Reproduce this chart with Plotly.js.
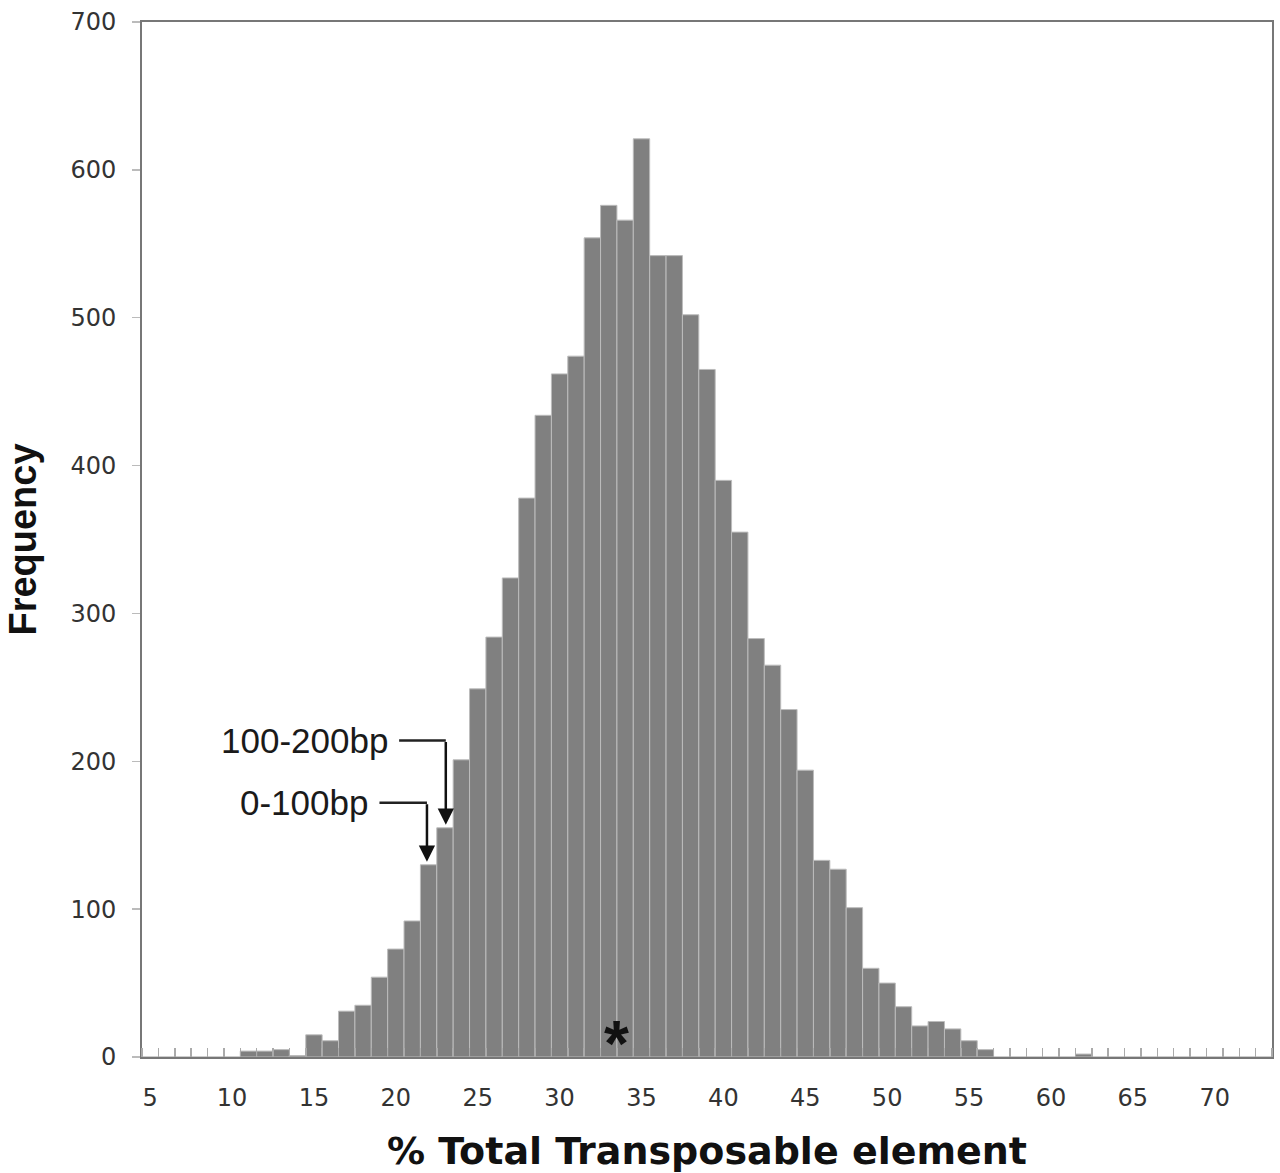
<!DOCTYPE html>
<html>
<head>
<meta charset="utf-8">
<script src="https://cdn.plot.ly/plotly-3.0.1.min.js"></script>
<style>html,body{margin:0;padding:0;background:#fff;}#chart{width:1280px;height:1173px;}</style>
</head>
<body>
<div id="chart"></div>
<script>
// % total transposable element categories (bin labels)
const categories = [5,6,7,8,9,10,11,12,13,14,15,16,17,18,19,20,21,22,23,24,25,26,27,28,29,30,31,32,33,34,35,36,37,38,39,40,41,42,43,44,45,46,47,48,49,50,51,52,53,54,55,56,57,58,59,60,61,62,63,64,65,66,67,68,69,70,71,72,73];
// Frequency per bin
const frequency = [0,0,0,0,0,0,4,4,5,1,15,11,31,35,54,73,92,130,155,201,249,284,324,378,434,462,474,554,576,566,621,542,542,502,465,390,355,283,265,235,194,133,127,101,60,50,34,21,24,19,11,5,0,0,0,0,0,2,0,0,0,0,0,0,0,0,0,0,0];
const xTickVals = [5,10,15,20,25,30,35,40,45,50,55,60,65,70];
const yTickVals = [0,100,200,300,400,500,600,700];
// annotated bins
const markBins = [{label:'0-100bp', bin:22, lineY:172, textX:14.4, lineStart:19.0, xOff:-0.1},
                  {label:'100-200bp', bin:23, lineY:214, textX:14.4, lineStart:20.2, xOff:0.05}];
const starX = 33.5;

const valueOf = b => frequency[categories.indexOf(b)];

const trace = {
  type:'bar', x:categories, y:frequency, width:1,
  marker:{color:'#808080', line:{color:'#bcbcbc', width:1}},
  hoverinfo:'x+y'
};

const shapes = [];
const annotations = [];
markBins.forEach(m => {
  const ax = m.bin + m.xOff;
  shapes.push({type:'line', xref:'x', yref:'y', x0:m.lineStart, x1:ax, y0:m.lineY, y1:m.lineY,
               line:{color:'#222', width:2.5}});
  annotations.push({x:ax, y:valueOf(m.bin)+2, xref:'x', yref:'y', text:'', showarrow:true,
                    axref:'x', ayref:'y', ax:ax, ay:m.lineY, arrowhead:2, arrowsize:1.3, arrowwidth:2.5,
                    arrowcolor:'#111', standoff:0});
  annotations.push({x:m.textX, y:m.lineY, xref:'x', yref:'y', text:m.label, showarrow:false,
                    xanchor:'center', yanchor:'middle',
                    font:{family:'Liberation Sans, Arial, sans-serif', size:35, color:'#1a1a1a'}});
});
annotations.push({x:starX, y:9, xref:'x', yref:'y', text:'*', showarrow:false, yanchor:'middle',
                  font:{family:'Liberation Sans, Arial, sans-serif', size:64, color:'#111', weight:'bold'}});

const layout = {
  width:1280, height:1173,
  margin:{l:142, r:8, t:22, b:116},
  paper_bgcolor:'#fff', plot_bgcolor:'#fff',
  bargap:0,
  showlegend:false,
  xaxis:{
    range:[4.5, 73.5], tickvals:xTickVals, ticktext:xTickVals.map(String),
    ticks:'', showgrid:false, zeroline:false,
    showline:true, linecolor:'#777', linewidth:2, mirror:true,
    minor:{tick0:4.5, dtick:1, ticks:'inside', ticklen:9, tickcolor:'#aaa', tickwidth:1.5, showgrid:false},
    tickfont:{family:'DejaVu Sans, Verdana, sans-serif', size:24, color:'#333'},
    ticklabelstandoff:18,
    title:{text:'% Total Transposable element', standoff:27,
           font:{family:'DejaVu Sans, Verdana, sans-serif', size:38, color:'#111', weight:'bold'}}
  },
  yaxis:{
    range:[0,700], tickvals:yTickVals, ticks:'outside', ticklen:8, tickcolor:'#bbb', tickwidth:1.5,
    showgrid:false, zeroline:false,
    showline:true, linecolor:'#777', linewidth:2, mirror:true,
    tickfont:{family:'DejaVu Sans, Verdana, sans-serif', size:24, color:'#333'},
    ticklabelstandoff:11,
    title:{text:'Frequency', standoff:22,
           font:{family:'Liberation Sans, Arial, sans-serif', size:38, color:'#111', weight:'bold'}}
  },
  shapes:shapes,
  annotations:annotations
};

Plotly.newPlot('chart', [trace], layout, {staticPlot:true, displayModeBar:false});
</script>
</body>
</html>
